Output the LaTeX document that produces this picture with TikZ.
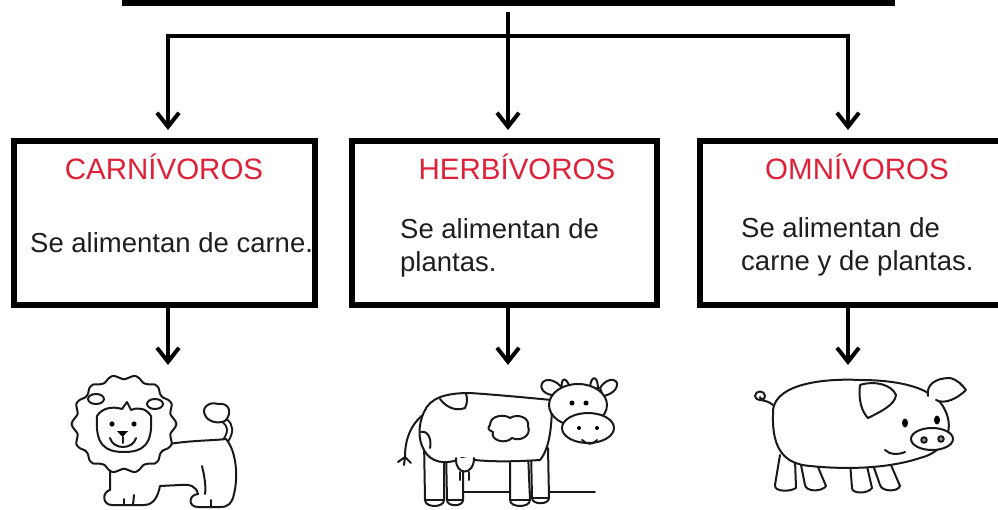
\documentclass[tikz,border=0pt]{standalone}
\usepackage{fontspec}
\setmainfont{Liberation Sans}
\usetikzlibrary{arrows.meta}
\definecolor{titred}{RGB}{222,32,56}
\definecolor{ink}{RGB}{30,30,30}
\begin{document}
\begin{tikzpicture}[x=1pt,y=-1pt,
  boxstyle/.style={draw=black, line width=6pt, rectangle, inner sep=0pt},
  conn/.style={line width=4pt, black},
  arr/.style={conn, -{Straight Barb[length=14pt,width=22pt]}},
  titletext/.style={text=titred, font=\fontsize{29.5}{34}\selectfont, anchor=base, inner sep=0pt},
  bodytext/.style={text=ink, font=\fontsize{27.5}{33}\selectfont, anchor=base west, align=left, inner sep=0pt},
  sketch/.style={line width=2pt, draw=black!90, line join=round, line cap=round},
  sk/.style={sketch, fill=white},
]
\useasboundingbox (0,0) rectangle (998,510);
\clip (0,0) rectangle (998,510);

% boxes
\node[boxstyle, minimum width=767pt, minimum height=45pt] (top) at (508,-19.5) {};
\node[boxstyle, minimum width=301.5pt, minimum height=163.5pt] (b1) at (164.25,223.25) {};
\node[boxstyle, minimum width=305pt, minimum height=163.5pt] (b2) at (504,223.25) {};
\node[boxstyle, minimum width=320pt, minimum height=163.5pt] (b3) at (859.5,223.25) {};

% texts
\node[titletext] (t1) at (164,180) {CARNÍVOROS};
\node[titletext] (t2) at (517,180) {HERBÍVOROS};
\node[titletext] (t3) at (857,180) {OMNÍVOROS};
\node[bodytext] (d1) at (30,253) {Se alimentan de carne.};
\node[bodytext] (d2) at (400,272) {Se alimentan de\\plantas.};
\node[bodytext] (d3) at (741,271) {Se alimentan de\\carne y de plantas.};

% connectors
\coordinate (stem) at (508,12);
\coordinate (jl) at (168,36);
\coordinate (jr) at (848,36);
\draw[conn, line cap=rect] (jl) -- (jr);
\draw[arr, shorten >=8.5pt] (stem) -- (stem |- b2.north);
\draw[arr, shorten >=8.5pt] (jl) -- (jl |- b1.north);
\draw[arr, shorten >=8.5pt] (jr) -- (jr |- b3.north);
\coordinate (l1) at (168,365);
\coordinate (l2) at (508,365);
\coordinate (l3) at (848,365);
\draw[arr] (l1 |- b1.south) -- (l1);
\draw[arr] (l2 |- b2.south) -- (l2);
\draw[arr] (l3 |- b3.south) -- (l3);

% ===== lion =====
\draw[sketch, double=white, double distance=3pt] (226,440) .. controls (231,432) and (231,426) .. (225,421);
\draw[sk] (225,421) .. controls (233,413) and (229,402) .. (218,404) .. controls (209,401) and (201,408) .. (205,415) .. controls (208,422) and (218,424) .. (225,421) -- cycle;
\draw[sk] (150,448) .. controls (180,440) and (210,441) .. (226,439)
  .. controls (237,452) and (238,478) .. (234,494)
  .. controls (232,503) and (229,507) .. (220,507)
  -- (198,507) .. controls (188,507) and (188,495) .. (198,494)
  .. controls (196,486) and (190,484) .. (180,485)
  -- (160,486) .. controls (158,496) and (154,505) .. (144,505)
  -- (112,505) .. controls (102,505) and (102,492) .. (110,490)
  -- (110,460) -- cycle;
\draw[sketch] (202,466) .. controls (205,478) and (206,488) .. (205,494);
\draw[sketch] (211,507) -- (211,500);
\draw[sketch] (133,505) -- (134,495);
\draw[sketch] (124,505) -- (124,499);
\draw[sk] plot[smooth cycle, samples=60, domain=0:354, variable=\t]
  ({124+50*(1+0.05*cos(14*\t))*cos(\t)}, {424+47*(1+0.05*cos(14*\t))*sin(\t)});
\draw[sk] (97,416) .. controls (95,445) and (105,452) .. (124,452) .. controls (143,452) and (153,445) .. (151,416)
  .. controls (146,408) and (138,407) .. (131,410) -- (127,402) -- (122,409)
  .. controls (112,406) and (102,408) .. (97,416) -- cycle;
\draw[sketch] (96,399) ellipse [x radius=8, y radius=5];
\draw[sketch] (155,404) ellipse [x radius=8, y radius=5];
\fill[black] (112,424) circle [radius=2.6];
\fill[black] (134,424) circle [radius=2.6];
\fill[black] (117,431) -- (128,431) -- (122.5,437) -- cycle;
\draw[sketch] (110,438) .. controls (113,450) and (133,450) .. (136,438);
\draw[sketch] (122.5,437) -- (122.5,443);

% ===== cow =====
\draw[sketch, line width=1.6pt] (457,492) -- (595,492);
\draw[sketch] (424,414) .. controls (410,425) and (405,440) .. (405,457);
\draw[sketch] (405,457) -- (398,462) (405,457) -- (404,465) (405,457) -- (411,463);
\draw[sk] (424,440) -- (425,500) .. controls (425,508) and (444,508) .. (444,500) -- (444,445);
\draw[sk] (446,450) -- (447,500) .. controls (447,507) and (463,507) .. (463,500) -- (463,452);
\draw[sk] (510,450) -- (510,500) .. controls (510,508) and (530,508) .. (530,500) -- (528,452);
\draw[sk] (531,450) -- (532,498) .. controls (532,505) and (549,505) .. (549,498) -- (548,448);
\draw[sketch] (425,500) -- (444,500) (447,500) -- (463,500) (510,500) -- (530,500) (532,498) -- (549,498);
\draw[sk] (424,412) .. controls (430,398) and (445,393) .. (470,393) .. controls (500,395) and (530,398) .. (552,400)
  .. controls (552,425) and (550,448) .. (540,460) .. controls (510,462) and (480,462) .. (462,458)
  .. controls (445,466) and (430,462) .. (424,450) .. controls (418,440) and (418,425) .. (424,412) -- cycle;
\draw[sk] (456,458) .. controls (455,476) and (474,476) .. (474,458);
\draw[sketch] (460,472) -- (460,480) (469,472) -- (469,480);
\draw[sketch] (490,425) .. controls (490,415) and (505,414) .. (510,418) .. controls (518,413) and (530,418) .. (528,426)
  .. controls (532,436) and (520,442) .. (512,438) .. controls (505,445) and (490,440) .. (493,432)
  .. controls (487,430) and (488,427) .. (490,425) -- cycle;
\draw[sketch] (440,399) .. controls (445,406) and (455,412) .. (465,408) .. controls (468,402) and (467,397) .. (466,394);
\draw[sketch] (421,432) .. controls (428,430) and (432,440) .. (430,448);
\draw[sk] (556,395) .. controls (545,396) and (538,388) .. (543,382) .. controls (548,377) and (558,382) .. (562,388) -- cycle;
\draw[sk] (600,388) .. controls (605,380) and (614,377) .. (617,383) .. controls (618,390) and (610,395) .. (603,396) -- cycle;
\draw[sk] (562,390) .. controls (560,378) and (566,375) .. (570,388) -- cycle;
\draw[sk] (590,387) .. controls (591,375) and (598,375) .. (598,389) -- cycle;
\draw[sk] (578,405) ellipse [x radius=29, y radius=21];
\draw[sk] (588,428) ellipse [x radius=26, y radius=15];
\fill[black] (572,403) circle [radius=2.5];
\fill[black] (586,403) circle [radius=2.5];
\fill[black] (579,428) circle [radius=2];
\fill[black] (597,428) circle [radius=2];
\draw[sketch] (582,440) .. controls (587,445) and (593,445) .. (597,440);

% ===== pig =====
\draw[sketch] (773,405) .. controls (765,398) and (755,402) .. (755,396) .. controls (755,390) and (765,390) .. (765,396) .. controls (765,400) and (760,400) .. (760,397);
\draw[sk] (780,455) -- (775,485) .. controls (774,492) and (790,492) .. (796,488) -- (795,460);
\draw[sk] (800,460) -- (805,485) .. controls (806,492) and (822,492) .. (826,486) -- (815,460);
\draw[sk] (850,462) -- (852,488) .. controls (852,494) and (868,494) .. (872,488) -- (866,462);
\draw[sk] (872,462) -- (880,485) .. controls (882,492) and (898,492) .. (900,486) -- (888,458);
\draw[sk] (773,415) .. controls (770,385) and (820,378) .. (860,380) .. controls (900,380) and (935,388) .. (945,410)
  .. controls (955,430) and (945,452) .. (920,458) .. controls (890,468) and (850,470) .. (810,466)
  .. controls (785,464) and (772,450) .. (773,415) -- cycle;
\draw[sk] (860,385) .. controls (858,400) and (862,412) .. (868,418) .. controls (880,412) and (895,405) .. (896,395)
  .. controls (892,385) and (875,380) .. (860,385) -- cycle;
\draw[sk] (928,396) .. controls (926,385) and (935,378) .. (950,378) .. controls (958,380) and (962,385) .. (966,390)
  .. controls (958,398) and (945,405) .. (936,400);
\fill[black] (905,423) ellipse [x radius=3, y radius=4.5];
\fill[black] (937,420) ellipse [x radius=3, y radius=4.5];
\draw[sk] (932,439) ellipse [x radius=21, y radius=11];
\draw[sketch, fill=black!40] (924,440) circle [radius=2.8];
\draw[sketch, fill=black!40] (941,439) circle [radius=2.8];
\draw[sketch] (885,450) .. controls (890,455) and (898,455) .. (905,452);
\end{tikzpicture}
\end{document}
